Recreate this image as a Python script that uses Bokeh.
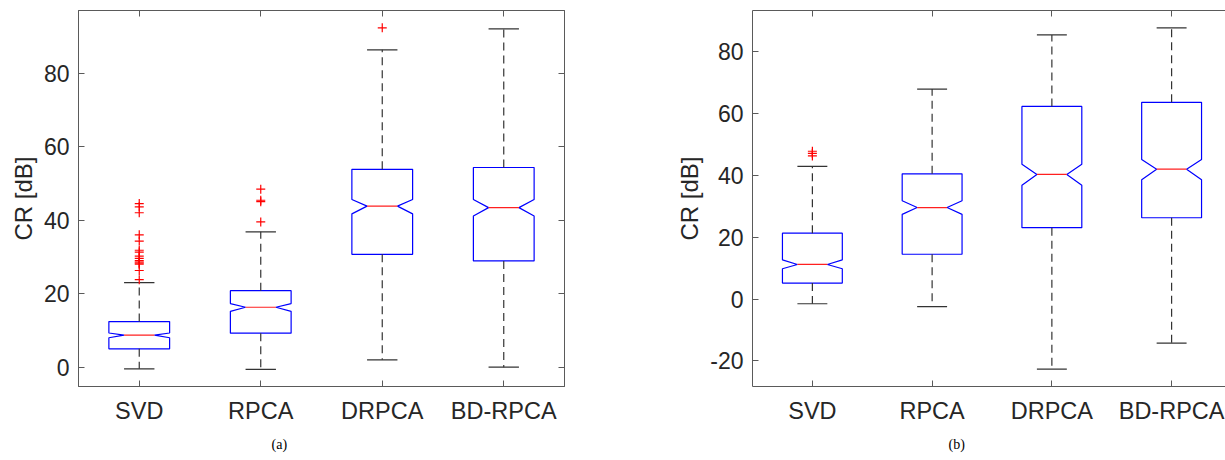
from bokeh.plotting import figure
from bokeh.models import FixedTicker, LinearAxis, Range1d, Title
from bokeh.layouts import row
from bokeh.embed import file_html
from bokeh.resources import INLINE

categories = ["SVD", "RPCA", "DRPCA", "BD-RPCA"]

# ---- panel (a) ----
a_q1 = [5.0, 9.25, 30.7, 28.9]
a_q3 = [12.4, 20.8, 53.8, 54.3]
a_med = [8.7, 16.3, 43.8, 43.4]
a_notch_lo = [8.0, 15.2, 41.7, 41.1]
a_notch_hi = [9.3, 17.3, 45.6, 45.6]
a_whisk_lo = [-0.45, -0.6, 2.0, 0.0]
a_whisk_hi = [23.0, 36.8, 86.3, 92.0]
a_out_cat = [1] * 15 + [2] * 4 + [3]
a_out_val = [44.5, 43.6, 42.0, 36.0, 34.3, 31.8, 31.3, 30.2, 29.6, 29.0, 28.6, 28.3, 28.0, 26.3, 23.8,
             48.4, 45.4, 45.0, 39.5,
             92.3]

# ---- panel (b) ----
b_q1 = [5.2, 14.5, 23.1, 26.3]
b_q3 = [21.3, 40.5, 62.3, 63.6]
b_med = [11.2, 29.6, 40.3, 42.0]
b_notch_lo = [9.8, 27.4, 36.8, 38.6]
b_notch_hi = [12.7, 31.8, 43.6, 45.1]
b_whisk_lo = [-1.5, -2.4, -22.65, -14.2]
b_whisk_hi = [42.9, 67.9, 85.4, 87.7]
b_out_cat = [1, 1, 1]
b_out_val = [47.8, 47.1, 46.3]

a_yticks = [0, 20, 40, 60, 80]
b_yticks = [-20, 0, 20, 40, 60, 80]

FRAME = "#5a5a5a"
TXT = "#262626"
FONT = "Liberation Sans"
BOXW = 0.5
CAPW = 0.25
NOTCH = 0.125


def panel(q1, q3, med, nlo, nhi, wlo, whi, ocat, oval, yticks, yr, xend,
          width, mb_left, mb_right, caption, cap_offset, right_axis):
    p = figure(width=width, height=460, x_range=Range1d(0.5, xend), y_range=Range1d(*yr),
               output_backend="svg", toolbar_location=None,
               min_border_left=mb_left, min_border_right=mb_right,
               min_border_top=10, min_border_bottom=74)
    p.grid.visible = False
    p.outline_line_color = FRAME if right_axis else None
    p.background_fill_color = "white"

    xs = [1, 2, 3, 4]
    # notched boxes
    bx, by = [], []
    for i, x in enumerate(xs):
        l, r = x - BOXW / 2, x + BOXW / 2
        bx.append([l, l, l + NOTCH, l, l, r, r, r - NOTCH, r, r, l])
        by.append([q1[i], nlo[i], med[i], nhi[i], q3[i], q3[i], nhi[i], med[i], nlo[i], q1[i], q1[i]])
    p.patches(bx, by, fill_color=None, line_color="#0000ff", line_width=1.2)
    # medians
    p.segment(x0=[x - BOXW / 2 + NOTCH for x in xs], x1=[x + BOXW / 2 - NOTCH for x in xs],
              y0=med, y1=med, line_color="#ff2020", line_width=1.2)
    # whiskers
    p.segment(x0=xs, x1=xs, y0=q3, y1=whi, line_color="#333333", line_width=1.2, line_dash="8 5")
    p.segment(x0=xs, x1=xs, y0=q1, y1=wlo, line_color="#333333", line_width=1.2, line_dash="8 5")
    # caps
    p.segment(x0=[x - CAPW / 2 for x in xs], x1=[x + CAPW / 2 for x in xs], y0=whi, y1=whi,
              line_color="#333333", line_width=1.2)
    p.segment(x0=[x - CAPW / 2 for x in xs], x1=[x + CAPW / 2 for x in xs], y0=wlo, y1=wlo,
              line_color="#333333", line_width=1.2)
    # outliers
    p.scatter(x=ocat, y=oval, marker="cross", size=9, line_color="#ff0000", line_width=1.2)

    # axes
    p.xaxis.ticker = FixedTicker(ticks=xs)
    p.xaxis.major_label_overrides = {i + 1: c for i, c in enumerate(categories)}
    p.yaxis.ticker = FixedTicker(ticks=yticks)
    p.yaxis.major_label_overrides = {t: str(t) for t in yticks}
    for ax in (p.xaxis[0], p.yaxis[0]):
        ax.axis_line_color = FRAME
        ax.major_tick_line_color = FRAME
        ax.major_tick_in = 6
        ax.major_tick_out = 0
        ax.minor_tick_line_color = None
        ax.major_label_text_font = FONT
        ax.major_label_text_color = TXT
    p.yaxis.major_label_text_font_size = "23px"
    p.xaxis.major_label_text_font_size = "23.5px"
    p.xaxis.major_label_standoff = 11
    p.yaxis.major_label_standoff = 9
    p.yaxis.axis_label = "CR [dB]"
    p.yaxis.axis_label_text_font = FONT
    p.yaxis.axis_label_text_font_size = "24px"
    p.yaxis.axis_label_text_font_style = "normal"
    p.yaxis.axis_label_text_color = TXT
    p.yaxis.axis_label_standoff = 4

    top = LinearAxis(ticker=FixedTicker(ticks=xs), major_label_text_font_size="0px",
                     major_label_text_color=None,
                     major_label_standoff=0, major_tick_in=6, major_tick_out=0,
                     axis_line_color=FRAME, major_tick_line_color=FRAME, minor_tick_line_color=None)
    p.add_layout(top, "above")
    if right_axis:
        rt = LinearAxis(ticker=FixedTicker(ticks=yticks), major_label_text_font_size="0px",
                        major_label_text_color=None,
                        major_label_standoff=0, major_tick_in=6, major_tick_out=0,
                        axis_line_color=FRAME, major_tick_line_color=FRAME, minor_tick_line_color=None)
        p.add_layout(rt, "right")

    p.add_layout(Title(text=caption, align="left", offset=cap_offset, text_font="Liberation Serif",
                       text_font_size="14px", text_font_style="normal", text_color="black",
                       standoff=16), "below")
    return p


pa = panel(a_q1, a_q3, a_med, a_notch_lo, a_notch_hi, a_whisk_lo, a_whisk_hi, a_out_cat, a_out_val,
           a_yticks, (-5.25, 97.0), 4.5, 600, 78, 36, "(a)", 193, True)
pb = panel(b_q1, b_q3, b_med, b_notch_lo, b_notch_hi, b_whisk_lo, b_whisk_hi, b_out_cat, b_out_val,
           b_yticks, (-28.25, 93.3), 4.45, 625, 152, 0, "(b)", 196, False)

layout = row(pa, pb)
open("out.html", "w").write(file_html(layout, INLINE))
